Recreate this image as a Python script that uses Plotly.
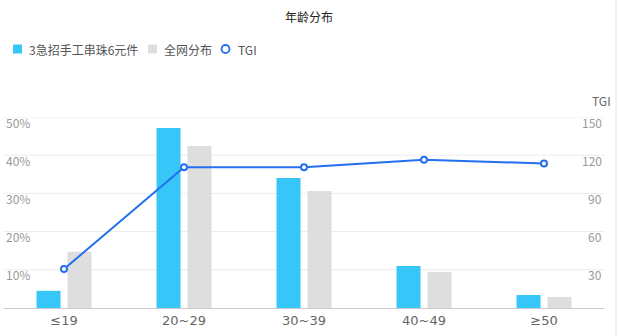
import plotly.graph_objects as go

categories = ["≤19", "20~29", "30~39", "40~49", "≥50"]
shop_pct = [4.5, 47.1, 34.0, 11.0, 3.4]
all_pct = [14.7, 42.4, 30.6, 9.4, 2.9]
tgi = [30.6, 110.5, 110.5, 116.5, 113.5]
left_ticks = [10, 20, 30, 40, 50]
left_labels = ["10%", "20%", "30%", "40%", "50%"]
right_ticks = [30, 60, 90, 120, 150]
right_labels = ["30", "60", "90", "120", "150"]
legend_names = ["3急招手工串珠6元件", "全网分布", "TGI"]

BLUE = "#36c6f8"
GREY = "#dedede"
LINE = "#2470ef"
FONT = "Noto Sans CJK SC, Noto Sans, sans-serif"
W, H = 618, 336
L, R, T, B = 4, 14, 117, 28
PW, PH = W - L - R, H - T - B


def px(x):
    return (x - L) / PW


def py(y):
    return (H - B - y) / PH


fig = go.Figure()
fig.add_trace(go.Bar(x=categories, y=shop_pct, name=legend_names[0],
                     marker=dict(color=BLUE, line=dict(width=0)),
                     width=0.2, offset=-0.229, hoverinfo="skip", showlegend=False))
fig.add_trace(go.Bar(x=categories, y=all_pct, name=legend_names[1],
                     marker=dict(color=GREY, line=dict(width=0)),
                     width=0.2, offset=0.029, hoverinfo="skip", showlegend=False))
fig.add_trace(go.Scatter(x=categories, y=tgi, yaxis="y2", mode="lines+markers",
                         line=dict(color=LINE, width=2),
                         marker=dict(size=6, color="white", line=dict(color=LINE, width=2)),
                         showlegend=False, name=legend_names[2]))

shapes = [
    # manual legend symbols
    dict(type="rect", xref="paper", yref="paper", x0=px(13), x1=px(22), y0=py(53.5), y1=py(44.5),
         fillcolor=BLUE, line=dict(width=0)),
    dict(type="rect", xref="paper", yref="paper", x0=px(148), x1=px(157), y0=py(53.5), y1=py(44.5),
         fillcolor=GREY, line=dict(width=0)),
    dict(type="circle", xref="paper", yref="paper", x0=px(221.5), x1=px(229.5), y0=py(53), y1=py(45),
         fillcolor="white", line=dict(color=LINE, width=1.8)),
    # container border
    dict(type="line", xref="paper", yref="paper", x0=px(616), x1=px(616),
         y0=py(H), y1=py(0), line=dict(color="#e6e6e6", width=1)),
]
# horizontal grid lines
for v in left_ticks:
    shapes.append(dict(type="line", xref="paper", yref="y", x0=0, x1=1, y0=v, y1=v,
                       layer="below", line=dict(color="#ececec", width=1)))

annotations = [
    dict(text=legend_names[0], xref="paper", yref="paper", x=px(27), y=py(49),
         xanchor="left", yanchor="middle", showarrow=False, font=dict(size=12, color="#555")),
    dict(text=legend_names[1], xref="paper", yref="paper", x=px(162), y=py(49),
         xanchor="left", yanchor="middle", showarrow=False, font=dict(size=12, color="#555")),
    dict(text=legend_names[2], xref="paper", yref="paper", x=px(236), y=py(49),
         xanchor="left", yanchor="middle", showarrow=False, font=dict(size=12, color="#555")),
    dict(text="TGI", xref="paper", yref="paper", x=px(613), y=py(101),
         xanchor="right", yanchor="middle", showarrow=False, font=dict(size=12, color="#666")),
]
# axis tick labels drawn inside the plot, just below each grid line
for v, t in zip(left_ticks, left_labels):
    annotations.append(dict(text=t, xref="paper", yref="y", x=px(4), y=v, yshift=-5,
                            xanchor="left", yanchor="middle", showarrow=False,
                            font=dict(size=12, color="#999")))
for v, t in zip(right_ticks, right_labels):
    annotations.append(dict(text=t, xref="paper", yref="y2", x=px(604), y=v, yshift=-5,
                            xanchor="right", yanchor="middle", showarrow=False,
                            font=dict(size=12, color="#999")))

fig.update_layout(
    width=W, height=H,
    margin=dict(l=L, r=R, t=T, b=B),
    paper_bgcolor="white", plot_bgcolor="white",
    font=dict(family=FONT, size=12, color="#666"),
    barmode="overlay",
    showlegend=False,
    title=dict(text="年龄分布", x=0.5, xanchor="center", y=1 - 18 / H, yanchor="middle",
               font=dict(size=12, color="#222", family=FONT)),
    xaxis=dict(type="category", range=[-0.5, 4.5], showgrid=False,
               showline=True, linecolor="#cccccc", linewidth=1, ticks="",
               tickfont=dict(size=13, color="#666", family="DejaVu Sans, Noto Sans, sans-serif"),
               fixedrange=True),
    yaxis=dict(range=[0, 50], showticklabels=False, showgrid=False,
               zeroline=False, showline=False),
    yaxis2=dict(range=[0, 150], overlaying="y", side="right", showticklabels=False,
                showgrid=False, zeroline=False, showline=False),
    annotations=annotations,
    shapes=shapes,
)

fig.write_html("out.html")
